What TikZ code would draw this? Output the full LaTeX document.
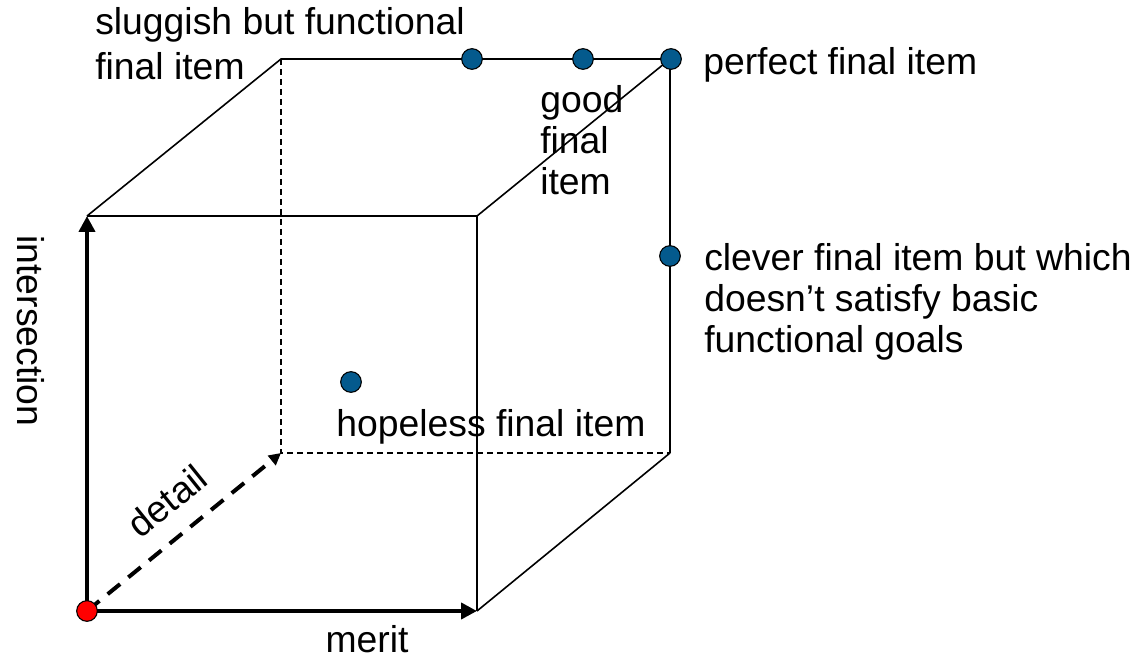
\documentclass[tikz,border=0pt]{standalone}
\usepackage{fontspec}
\setmainfont{Liberation Sans}
\usetikzlibrary{arrows.meta}
\definecolor{dotblue}{RGB}{4,90,141}
\tikzset{
  lbl/.style={font=\fontsize{28}{31}\selectfont, inner sep=0pt, align=left, text=black},
  edge/.style={line width=1.2pt},
  hidden/.style={line width=1.2pt, dash pattern=on 4.5pt off 3pt},
  axis/.style={line width=3pt, -{Triangle[length=12pt,width=12pt]}},
  daxis/.style={line width=3pt, dash pattern=on 12pt off 8pt, -{Triangle[length=9pt,width=9pt]}},
  pt/.style={circle, draw=black, line width=0.8pt, fill=dotblue, minimum size=15.5pt, inner sep=0pt},
  origin/.style={circle, draw=black, line width=0.8pt, fill=red, minimum size=15.5pt, inner sep=0pt}
}
\begin{document}
\begin{tikzpicture}[x=0.75pt,y=-0.75pt]
\useasboundingbox (0,0) rectangle (1143,659);
% cube corners
\coordinate (O) at (87,611);
\coordinate (FBR) at (477,611);
\coordinate (FTL) at (87,216);
\coordinate (FTR) at (477,216);
\coordinate (BBL) at (281,453);
\coordinate (BBR) at (670,453);
\coordinate (BTL) at (281,59);
\coordinate (BTR) at (670,59);
% hidden edges
\draw[hidden] (BTL) -- (BBL) -- (BBR);
% visible edges
\draw[edge] (FTL) -- (FTR) -- (FBR);
\draw[edge] (FTL) -- (BTL) -- (BTR) -- (BBR);
\draw[edge] (FTR) -- (BTR);
\draw[edge] (FBR) -- (BBR);
% axes
\draw[axis] (O) -- (FBR);
\draw[axis] (O) -- (FTL);
\draw[daxis] (O) -- (BBL);
\node[origin] (o) at (O) {};
% points
\node[pt] (p1) at (472,59) {};
\node[pt] (p2) at (583,59) {};
\node[pt] (p3) at (671,59) {};
\node[pt] (p4) at (670,256) {};
\node[pt] (p5) at (351,382) {};
% labels (base anchor = baseline of last line)
\node[lbl, anchor=base west, font=\fontsize{28}{34}\selectfont] (tslug) at (95,80) {sluggish but functional\\final item};
\node[lbl, anchor=base west] (tperf) at (703,75) {perfect final item};
\node[lbl, anchor=base west] (tgood) at (540,195) {good\\final\\item};
\node[lbl, anchor=base west] (tclev) at (704,353) {clever final item but which\\doesn’t satisfy basic\\functional goals};
\node[lbl, anchor=base west] (thope) at (336,436) {hopeless final item};
\node[lbl, rotate=-90] (tint) at (31,331) {intersection};
\node[lbl, rotate=38.8] (tdet) at (167,501) {detail};
\node[lbl] (tmer) at (367,639) {merit};
\end{tikzpicture}
\end{document}
